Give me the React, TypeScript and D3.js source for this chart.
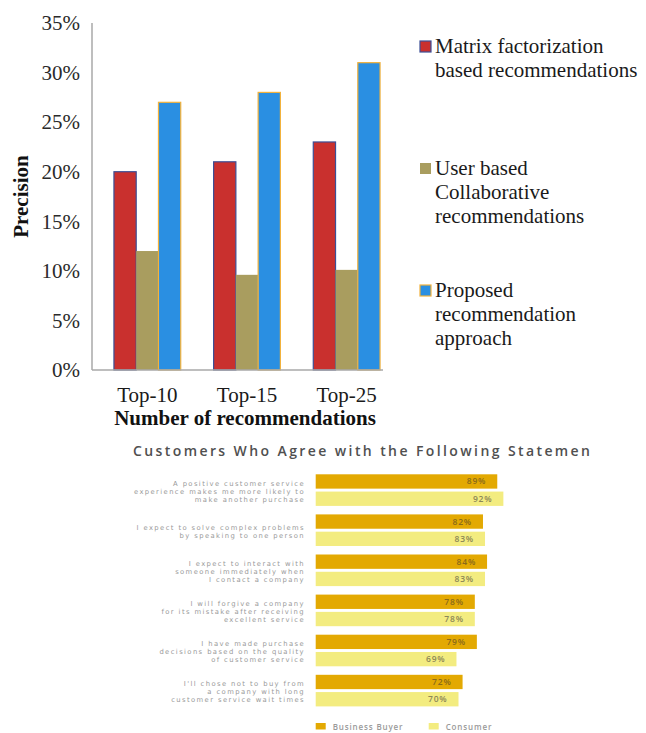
import React from 'react';
import * as d3 from 'd3';

// ---------- Top chart data ----------
const categories = ['Top-10', 'Top-15', 'Top-25'];
const seriesKeys = ['matrix', 'user', 'proposed'];
const matrixValues = [20, 21, 23];
const userValues = [12, 9.6, 10.1];
const proposedValues = [27, 28, 31];
const yTicks = [0, 5, 10, 15, 20, 25, 30, 35];
const legendLines = [
  ['Matrix factorization', 'based recommendations'],
  ['User based', 'Collaborative', 'recommendations'],
  ['Proposed', 'recommendation', 'approach'],
];

// ---------- Bottom chart data ----------
const bottomTitle = 'Customers Who Agree with the Following Statemen';
const statementLines = [
  ['A positive customer service', 'experience makes me more likely to', 'make another purchase'],
  ['I expect to solve complex problems', 'by speaking to one person'],
  ['I expect to interact with', 'someone immediately when', 'I contact a company'],
  ['I will forgive a company', 'for its mistake after receiving', 'excellent service'],
  ['I have made purchase', 'decisions based on the quality', 'of customer service'],
  ["I'll chose not to buy from", 'a company with long', 'customer service wait times'],
];
const businessBuyer = [89, 82, 84, 78, 79, 72];
const consumer = [92, 83, 83, 78, 69, 70];
const bottomLegend = ['Business Buyer', 'Consumer'];

const SERIF = '"Liberation Serif", "Times New Roman", serif';
const SANS = '"Open Sans", "Noto Sans", sans-serif';
const SMALL = '"DejaVu Sans", sans-serif';

const topColors = { matrix: '#c9302e', user: '#a99d5f', proposed: '#2a8fe2' };
const topStroke = { matrix: '#3c4f96', user: 'none', proposed: '#f2b23c' };
const bColors = ['#e3a902', '#f3ec80'];
const bText = ['#8a6a1a', '#8c8757'];

export default function App() {
  const topSeries = [matrixValues, userValues, proposedValues];

  const y = d3.scaleLinear().domain([0, 35]).range([370, 23]);
  const x = d3.scaleBand().domain(categories).range([97.5, 396.5]).paddingInner(0.33).paddingOuter(0.165);
  const xs = d3.scaleBand().domain(seriesKeys).range([0, x.bandwidth()]);

  const xb = d3.scaleLinear().domain([0, 100]).range([315.7, 519.7]);
  const rowIdx = statementLines.map((_, i) => String(i));
  const yb = d3.scaleBand().domain(rowIdx).range([474.3, 474.3 + 6 * 40.1]);
  const yInner = d3.scaleBand().domain(['bb', 'c']).range([0, 31.6]).paddingInner(0.17);

  return (
    <svg width={646} height={733} style={{ position: 'absolute', left: 0, top: 0, background: '#fff' }}>
      {/* ===== Top chart ===== */}
      <g>
        {categories.map((c, ci) =>
          seriesKeys.map((k, si) => {
            const v = topSeries[si][ci];
            const bx = (x(c) as number) + (xs(k) as number);
            return (
              <rect
                key={c + k}
                x={bx}
                y={y(v)}
                width={xs.bandwidth()}
                height={y(0) - y(v)}
                fill={(topColors as any)[k]}
                stroke={(topStroke as any)[k]}
                strokeWidth={1.2}
              />
            );
          })
        )}
        <line x1={92} x2={92} y1={y(35)} y2={y(0)} stroke="#a8a8a8" strokeWidth={1.5} />
        <line x1={92} x2={383} y1={y(0)} y2={y(0)} stroke="#a8a8a8" strokeWidth={1.5} />
        {yTicks.map((t) => (
          <text
            key={t}
            x={80}
            y={y(t)}
            dy="0.35em"
            textAnchor="end"
            fontFamily={SERIF}
            fontSize={21}
            fill="#2a2a2a"
          >
            {t}%
          </text>
        ))}
        {categories.map((c) => (
          <text
            key={c}
            x={(x(c) as number) + x.bandwidth() / 2}
            y={402}
            textAnchor="middle"
            fontFamily={SERIF}
            fontSize={21}
            fill="#1a1a1a"
          >
            {c}
          </text>
        ))}
        <text x={245} y={425} textAnchor="middle" fontFamily={SERIF} fontSize={21} fontWeight="bold" fill="#111">
          Number of recommendations
        </text>
        <text
          transform={`translate(28,${196.5}) rotate(-90)`}
          textAnchor="middle"
          fontFamily={SERIF}
          fontSize={21}
          fontWeight="bold"
          fill="#111"
        >
          Precision
        </text>
        {/* legend */}
        {legendLines.map((lines, i) => {
          const base = [53, 175, 297][i];
          return (
            <g key={i}>
              <rect
                x={420}
                y={base - 12}
                width={11}
                height={11}
                fill={(topColors as any)[seriesKeys[i]]}
                stroke={(topStroke as any)[seriesKeys[i]]}
                strokeWidth={1.2}
              />
              {lines.map((l, li) => (
                <text key={li} x={435} y={base + li * 24} fontFamily={SERIF} fontSize={21} fill="#1a1a1a">
                  {l}
                </text>
              ))}
            </g>
          );
        })}
      </g>

      {/* ===== Bottom chart ===== */}
      <g>
        <text
          x={133}
          y={456}
          fontFamily={SANS}
          fontSize={14}
          fontWeight={600}
          fill="#505050"
          textLength={457}
          lengthAdjust="spacing"
        >
          {bottomTitle}
        </text>
        {statementLines.map((lines, i) => {
          const y0 = yb(String(i)) as number;
          const vals = [businessBuyer[i], consumer[i]];
          const center = y0 + 15.8;
          return (
            <g key={i}>
              {['bb', 'c'].map((k, si) => {
                const by = y0 + (yInner(k) as number);
                return (
                  <g key={k}>
                    <rect x={xb(0)} y={by} width={xb(vals[si]) - xb(0)} height={yInner.bandwidth()} fill={bColors[si]} />
                    <text
                      x={xb(vals[si]) - 11}
                      y={by + yInner.bandwidth() / 2}
                      dy="0.35em"
                      textAnchor="end"
                      fontFamily={SANS}
                      fontSize={8.5}
                      fontWeight={600}
                      letterSpacing={0.8}
                      fill={bText[si]}
                    >
                      {vals[si]}%
                    </text>
                  </g>
                );
              })}
              {lines.map((l, li) => (
                <text
                  key={li}
                  x={305}
                  y={center + 1.5 + (li - (lines.length - 1) / 2) * 8}
                  dy="0.35em"
                  textAnchor="end"
                  fontFamily={SMALL}
                  fontSize={6.8}
                  letterSpacing={1.4}
                  fill="#999999"
                >
                  {l}
                </text>
              ))}
            </g>
          );
        })}
        {bottomLegend.map((name, i) => {
          const lx = [315.7, 428.7][i];
          return (
            <g key={name}>
              <rect x={lx} y={723} width={10} height={6.5} fill={bColors[i]} />
              <text x={lx + 17} y={729.5} fontFamily={SANS} fontSize={8} fontWeight={600} letterSpacing={0.85} fill="#9a9a9a">
                {name}
              </text>
            </g>
          );
        })}
      </g>
    </svg>
  );
}
